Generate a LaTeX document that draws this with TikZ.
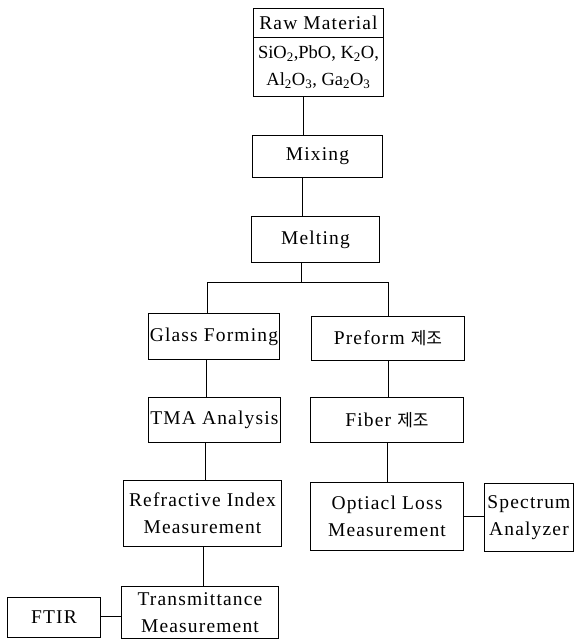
\documentclass[tikz,border=0pt]{standalone}
\usepackage{fontspec}
\setmainfont{Liberation Serif}[LetterSpace=6]
\newfontfamily\plainserif{Liberation Serif}
\newfontfamily\krfont{Noto Sans CJK KR}
\newcommand{\kr}[1]{{\krfont\fontsize{17}{20}\selectfont #1}}
\begin{document}
\begin{tikzpicture}[x=1pt,y=-1pt,
  box/.style={draw, line width=0.9pt, inner sep=0pt, anchor=north west, align=center,
    font=\fontsize{19.5}{27}\selectfont},
  link/.style={line width=1pt}]
\useasboundingbox (0,0) rectangle (575,643);
% boxes
\node[box, minimum width=130pt, minimum height=29pt] (rawtitle) at (253,8) {Raw Material};
\node[box, minimum width=130pt, minimum height=59pt, font=\plainserif\fontsize{18.5}{27}\selectfont] (rawbody) at (253,37)
  {SiO\textsubscript{2},PbO,\ K\textsubscript{2}O,\\Al\textsubscript{2}O\textsubscript{3},\ Ga\textsubscript{2}O\textsubscript{3}};
\node[box, minimum width=130pt, minimum height=42pt] (mix) at (252,135) {Mixing};
\node[box, minimum width=128pt, minimum height=46pt] (melt) at (251,216) {Melting};
\node[box, minimum width=131pt, minimum height=46pt] (glass) at (148,313) {Glass Forming};
\node[box, minimum width=153pt, minimum height=44pt] (pre) at (311,316) {Preform \kr{제조}};
\node[box, minimum width=132pt, minimum height=45pt] (tma) at (148,397) {TMA Analysis};
\node[box, minimum width=153pt, minimum height=45pt] (fiber) at (310,397) {Fiber \kr{제조}};
\node[box, minimum width=158pt, minimum height=66pt] (refr) at (123,480) {Refractive Index\\Measurement};
\node[box, minimum width=153pt, minimum height=68pt] (optic) at (310,482) {Optiacl Loss\\Measurement};
\node[box, minimum width=89pt, minimum height=68pt] (spec) at (484,483) {Spectrum\\Analyzer};
\node[box, minimum width=157pt, minimum height=52pt] (trans) at (121,586) {Transmittance\\Measurement};
\node[box, minimum width=93pt, minimum height=40pt] (ftir) at (7,597) {FTIR};
% trunk coordinates
\coordinate (t1) at (303,0);
\coordinate (t2) at (302,0);
\coordinate (t3) at (301,0);
\coordinate (split) at (301,282);
\coordinate (leftdrop) at (207,282);
\coordinate (rightdrop) at (388,282);
\coordinate (l1) at (206,0);
\coordinate (l2) at (205,0);
\coordinate (l3) at (203,0);
\coordinate (r1) at (388,0);
\coordinate (r2) at (387,0);
\coordinate (h1) at (0,616);
\coordinate (h2) at (0,516);
% connectors
\draw[link] (rawbody.south -| t1) -- (mix.north -| t1);
\draw[link] (mix.south -| t2) -- (melt.north -| t2);
\draw[link] (melt.south -| t3) -- (split);
\draw[link] (glass.north -| leftdrop) -- (leftdrop) -- (rightdrop) -- (pre.north -| rightdrop);
\draw[link] (glass.south -| l1) -- (tma.north -| l1);
\draw[link] (tma.south -| l2) -- (refr.north -| l2);
\draw[link] (refr.south -| l3) -- (trans.north -| l3);
\draw[link] (ftir.east |- h1) -- (trans.west |- h1);
\draw[link] (pre.south -| r1) -- (fiber.north -| r1);
\draw[link] (fiber.south -| r2) -- (optic.north -| r2);
\draw[link] (optic.east |- h2) -- (spec.west |- h2);
\end{tikzpicture}
\end{document}
